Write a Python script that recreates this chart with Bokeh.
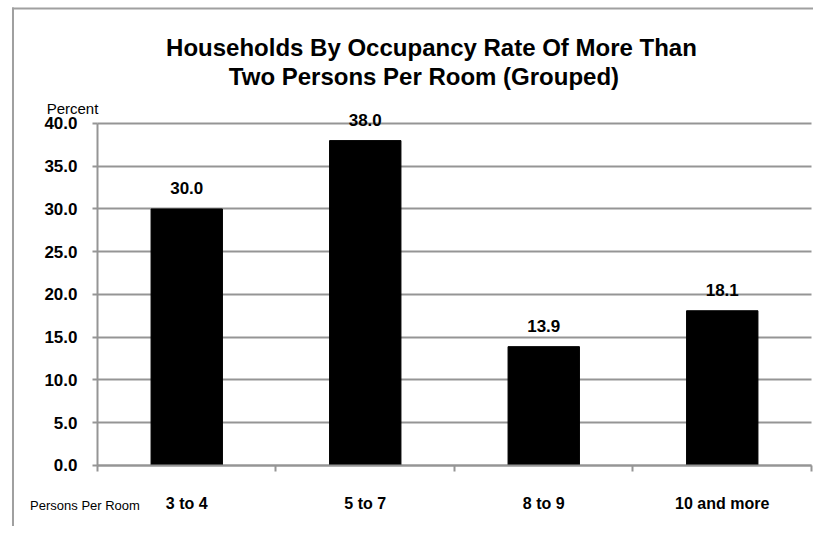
from bokeh.plotting import figure
from bokeh.models import (ColumnDataSource, Range1d, FixedTicker, PrintfTickFormatter,
                          LabelSet, Label, BoxAnnotation)
from bokeh.core.properties import value
from bokeh.embed import file_html
from bokeh.resources import INLINE

# ---- data ----
categories = ["3 to 4", "5 to 7", "8 to 9", "10 and more"]
values = [30.0, 38.0, 13.9, 18.1]
y_ticks = [0, 5, 10, 15, 20, 25, 30, 35, 40]
title_lines = ["Households By Occupancy Rate Of More Than",
               "Two Persons Per Room (Grouped)"]
y_axis_title = "Percent"
x_axis_title = "Persons Per Room"

FONT = "Liberation Sans"
GRID = "#959595"

n = len(categories)
centers = [i + 0.5 for i in range(n)]
source = ColumnDataSource(dict(
    x=centers, top=values, cat=categories,
    lbl=["%.1f" % v for v in values],
))

# whole canvas is the frame; axes are pinned at x=0 / y=0
p = figure(width=813, height=526, output_backend="svg", toolbar_location=None,
           x_range=Range1d(-0.5434, 4.0112), y_range=Range1d(-7.135, 54.386),
           min_border=0)
p.outline_line_color = None
p.background_fill_color = "white"
p.border_fill_color = "white"

# chart border (top and left edges of the chart area)
p.add_layout(BoxAnnotation(left=-0.4790, right=-0.4678, top=53.567, bottom=-10,
                           fill_color="#a0a0a0", fill_alpha=1.0, line_color=None,
                           level="underlay"))
p.add_layout(BoxAnnotation(left=-0.4790, right=5, top=53.567, bottom=53.333,
                           fill_color="#a0a0a0", fill_alpha=1.0, line_color=None,
                           level="underlay"))

p.vbar(x="x", top="top", bottom=0, width=0.4, source=source,
       fill_color="black", line_color="black")

# y axis
yax = p.yaxis[0]
yax.fixed_location = 0
yax.bounds = (0, 40)
yax.ticker = FixedTicker(ticks=y_ticks)
yax.formatter = PrintfTickFormatter(format="%.1f")
yax.axis_line_color = GRID
yax.axis_line_width = 2
yax.major_tick_line_color = GRID
yax.major_tick_line_width = 2
yax.major_tick_out = 5
yax.major_tick_in = 0
yax.minor_tick_line_color = None
yax.major_label_standoff = 15
yax.major_label_text_font = FONT
yax.major_label_text_font_style = "bold"
yax.major_label_text_font_size = "17px"
yax.major_label_text_color = "black"

# x axis: labels at centers, ticks at boundaries
xax = p.xaxis[0]
xax.fixed_location = 0
xax.bounds = (0, n)
xax.ticker = FixedTicker(ticks=centers, minor_ticks=list(range(n + 1)))
xax.major_label_overrides = {c: cat for c, cat in zip(centers, categories)}
xax.axis_line_color = GRID
xax.axis_line_width = 2
xax.major_tick_line_color = None
xax.major_tick_out = 0
xax.major_tick_in = 0
xax.minor_tick_line_color = GRID
xax.minor_tick_line_width = 2
xax.minor_tick_out = 6
xax.minor_tick_in = 0
xax.major_label_standoff = 24
xax.major_label_text_font = FONT
xax.major_label_text_font_style = "bold"
xax.major_label_text_font_size = "16px"
xax.major_label_text_color = "black"

p.xgrid.visible = False
p.ygrid.ticker = FixedTicker(ticks=y_ticks)
p.ygrid.cross_bounds = (0, n)
p.ygrid.grid_line_color = GRID
p.ygrid.grid_line_width = 2

labels = LabelSet(x="x", y="top", text="lbl", source=source,
                  text_align="center", text_baseline="alphabetic", y_offset=15,
                  text_font=value(FONT), text_font_style="bold",
                  text_font_size="17px", text_color="black")
p.add_layout(labels)

for txt, xx, yy in zip(title_lines, [1.871, 1.829], [48.9, 45.5]):
    p.add_layout(Label(x=xx, y=yy, text=txt, text_align="center",
                       text_baseline="middle", text_font=FONT,
                       text_font_style="bold", text_font_size="24px",
                       text_color="black"))

p.add_layout(Label(x=-0.14, y=41.78, text=y_axis_title, text_align="center",
                   text_baseline="middle", text_font=FONT,
                   text_font_size="15px", text_color="black"))
p.add_layout(Label(x=-0.07, y=-4.655, text=x_axis_title, text_align="center",
                   text_baseline="middle", text_font=FONT,
                   text_font_size="13px", text_color="black"))

open("out.html", "w").write(file_html(p, INLINE))
